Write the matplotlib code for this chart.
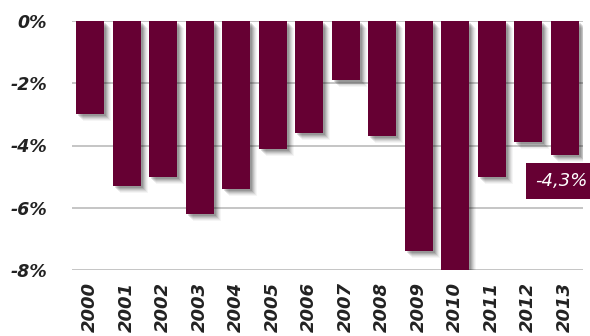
import numpy as np
import matplotlib
matplotlib.use("Agg")
import matplotlib.pyplot as plt
import matplotlib.patheffects as pe

# data
years = ['2000', '2001', '2002', '2003', '2004', '2005', '2006',
         '2007', '2008', '2009', '2010', '2011', '2012', '2013']
values = [-3.0, -5.3, -5.0, -6.2, -5.4, -4.1, -3.6,
          -1.9, -3.7, -7.4, -8.0, -5.0, -3.9, -4.3]
yticks = [0, -2, -4, -6, -8]
last_label = '-4,3%'

bar_color = '#660033'

fig = plt.figure(figsize=(5.9, 3.36), dpi=100)
ax = fig.add_axes([72/590, 1 - 270/336, 511/590, 249/336])

x = np.arange(len(years))
bars = ax.bar(x, values, width=0.77, color=bar_color, zorder=3)
# soft drop shadow, built from a few offset layers
shadow = []
for off, a in [(7, 0.04), (6, 0.05), (5, 0.07), (4, 0.09), (3, 0.11), (2, 0.12)]:
    shadow.append(pe.SimplePatchShadow(offset=(off * 0.72, -off * 0.72),
                                       shadow_rgbFace='k', alpha=a))
for b in bars:
    b.set_path_effects(shadow + [pe.Normal()])

ax.set_xlim(-0.5, len(years) - 0.5)
ax.set_ylim(-8, 0)
ax.set_yticks(yticks)
ax.set_yticklabels(['%d%%' % v for v in yticks])
ax.set_xticks(x)
ax.set_xticklabels(years, rotation=90, va='top')

for s in ax.spines.values():
    s.set_visible(False)
ax.tick_params(length=0)
ax.tick_params(axis='y', pad=18, labelsize=12.5, labelcolor='#222222')
ax.tick_params(axis='x', pad=9, labelsize=13, labelcolor='#222222')
for t in ax.get_xticklabels() + ax.get_yticklabels():
    t.set_fontstyle('italic')
    t.set_fontweight('bold')

ax.grid(axis='y', color='#bbbbbb', linewidth=1.2, zorder=0)
ax.set_axisbelow(True)

ax.text(0.906, 0.357, last_label, transform=ax.transAxes, color='white',
        fontsize=13, fontstyle='italic', va='center', ha='left',
        bbox=dict(boxstyle='square,pad=0.5', fc=bar_color, ec='none'),
        zorder=5, clip_on=False)

fig.savefig('out.png', dpi=100)
